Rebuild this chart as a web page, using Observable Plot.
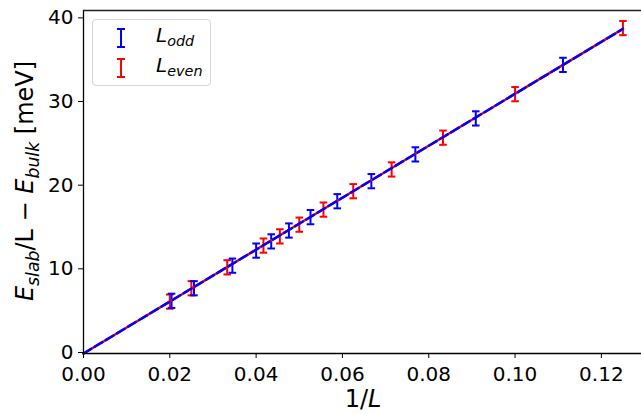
<!DOCTYPE html>
<html>
<head>
<meta charset="utf-8">
<script src="https://cdn.jsdelivr.net/npm/d3@7"></script>
<script src="https://cdn.jsdelivr.net/npm/@observablehq/plot@0.6"></script>
<style>
  body { margin: 0; background: white; font-family: "DejaVu Sans", sans-serif; }
  #wrap { position: relative; width: 641px; height: 414px; }
  #ylabel { position: absolute; left: 27px; top: 181px; transform: translate(-50%, -50%) rotate(-90deg); white-space: nowrap; font-size: 24px; }
  #xlabel { position: absolute; left: 363px; top: 399px; transform: translate(-50%, -50%); white-space: nowrap; font-size: 24px; }
  #legend { position: absolute; left: 92px; top: 19px; width: 119px; height: 67px; border: 1px solid #d6d6d6; border-radius: 4px; background: rgba(255,255,255,0.8); box-sizing: border-box; }
  .entry { position: absolute; left: 0; font-size: 20px; white-space: nowrap; }
  .entry svg { position: absolute; left: 21px; }
  .entry span { position: absolute; left: 63px; }
  sub { font-size: 0.72em; vertical-align: -0.3em; }
  i { font-style: italic; }
</style>
</head>
<body>
<div id="wrap">
  <div id="chart"></div>
  <div id="ylabel"><i>E</i><sub><i>slab</i></sub>/L − <i>E</i><sub><i>bulk</i></sub> [meV]</div>
  <div id="xlabel">1/<i>L</i></div>
  <div id="legend">
    <div class="entry" style="top:6px;height:24px;">
      <svg width="14" height="24"><line x1="7" y1="3" x2="7" y2="21" stroke="blue" stroke-width="2"/><line x1="3" y1="3" x2="11" y2="3" stroke="blue" stroke-width="2"/><line x1="3" y1="21" x2="11" y2="21" stroke="blue" stroke-width="2"/></svg>
      <span style="top:-3px"><i>L</i><sub><i>odd</i></sub></span>
    </div>
    <div class="entry" style="top:36px;height:24px;">
      <svg width="14" height="24"><line x1="7" y1="3" x2="7" y2="21" stroke="red" stroke-width="2"/><line x1="3" y1="3" x2="11" y2="3" stroke="red" stroke-width="2"/><line x1="3" y1="21" x2="11" y2="21" stroke="red" stroke-width="2"/></svg>
      <span style="top:-3px"><i>L</i><sub><i>even</i></sub></span>
    </div>
  </div>
</div>
<script>
// Odd L (blue)
const oddInvL = [0.0204, 0.0256, 0.0345, 0.0400, 0.0435, 0.0476, 0.0526, 0.0588, 0.0667, 0.0769, 0.0909, 0.1111];
const oddE    = [6.3,    7.8,    10.5,   12.3,   13.4,   14.7,   16.3,   18.2,   20.6,   23.8,   28.1,   34.5];
const oddErr  = [0.85,   0.85,   0.85,   0.85,   0.85,   0.85,   0.85,   0.85,   0.85,   0.85,   0.85,   0.85];
// Even L (red)
const evenInvL = [0.0200, 0.0250, 0.0333, 0.0417, 0.0455, 0.0500, 0.0556, 0.0625, 0.0714, 0.0833, 0.1000, 0.1250];
const evenE    = [6.2,    7.8,    10.3,   12.9,   14.0,   15.4,   17.2,   19.4,   22.0,   25.8,   31.0,   38.9];
const evenErr  = [0.85,   0.85,   0.85,   0.85,   0.85,   0.85,   0.85,   0.85,   0.85,   0.85,   0.85,   0.85];
// Fit line
const fitX = [0, 0.125];
const fitY = [0, 38.8];
// Ticks
const xTicks = [0, 0.02, 0.04, 0.06, 0.08, 0.10, 0.12];
const yTicks = [0, 10, 20, 30, 40];
const xDomain = [0, 0.1293];
const yDomain = [0, 41];

const odd = oddInvL.map((x, i) => ({x, y: oddE[i], lo: oddE[i] - oddErr[i], hi: oddE[i] + oddErr[i]}));
const even = evenInvL.map((x, i) => ({x, y: evenE[i], lo: evenE[i] - evenErr[i], hi: evenE[i] + evenErr[i]}));
const fit = fitX.map((x, i) => ({x, y: fitY[i]}));

const cap = {draw(ctx) { ctx.moveTo(-3.8, 0); ctx.lineTo(3.8, 0); }};

function errMarks(data, color) {
  return [
    Plot.ruleX(data, {x: "x", y1: "lo", y2: "hi", stroke: color, strokeWidth: 2}),
    Plot.dot(data, {x: "x", y: "lo", symbol: cap, stroke: color, strokeWidth: 2, fill: "none"}),
    Plot.dot(data, {x: "x", y: "hi", symbol: cap, stroke: color, strokeWidth: 2, fill: "none"})
  ];
}

const chart = Plot.plot({
  width: 641, height: 414,
  marginLeft: 83, marginRight: 0, marginTop: 10, marginBottom: 61,
  x: {domain: xDomain},
  y: {domain: yDomain},
  style: {fontFamily: "DejaVu Sans", fontSize: "20px", color: "black", background: "white", overflow: "visible"},
  marks: [
    ...errMarks(even, "red"),
    ...errMarks(odd, "blue"),
    Plot.line(fit, {x: "x", y: "y", stroke: "red", strokeWidth: 2.5}),
    Plot.line(fit, {x: "x", y: "y", stroke: "blue", strokeWidth: 2.5, strokeDasharray: "9,4"}),
    Plot.ruleX([xDomain[0]], {stroke: "black", strokeWidth: 1.3}),
    Plot.ruleY([yDomain[0]], {stroke: "black", strokeWidth: 1.3}),
    Plot.ruleY([yDomain[1]], {stroke: "#222", strokeWidth: 1.5}),
    Plot.axisX({ticks: xTicks, tickFormat: d3.format(".2f"), tickSize: 5, tickPadding: 8, label: null, fontSize: 20}),
    Plot.axisY({ticks: yTicks, tickSize: 5, tickPadding: 5, label: null, fontSize: 20, dy: -1})
  ]
});
document.getElementById("chart").appendChild(chart);
</script>
</body>
</html>
